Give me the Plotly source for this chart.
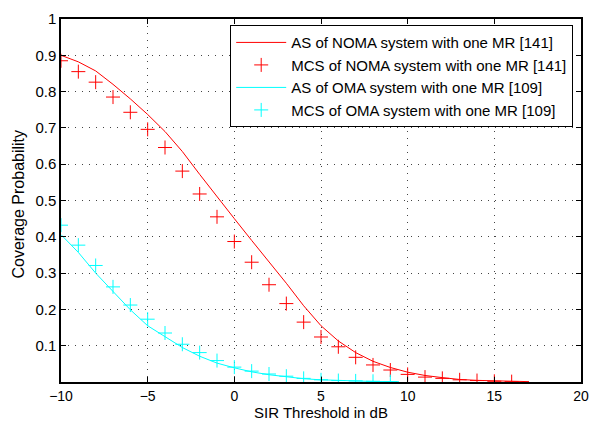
import plotly.graph_objects as go

# Analytical curves (AS)
x_as_noma = [-10, -9, -8, -7, -6, -5, -4, -3, -2, -1, 0, 1, 2, 3, 4, 5, 6, 7, 8, 9, 10, 11, 12, 13, 14, 15, 16, 17]
y_as_noma = [0.90, 0.882, 0.857, 0.82, 0.78, 0.737, 0.69, 0.635, 0.572, 0.51, 0.45, 0.39, 0.332, 0.272, 0.21, 0.155,
             0.113, 0.081, 0.057, 0.04, 0.027, 0.018, 0.012, 0.007, 0.0045, 0.0028, 0.0017, 0.001]

x_as_oma = [-10, -9, -8, -7, -6, -5, -4, -3, -2, -1, 0, 1, 2, 3, 4, 5, 6, 7, 8, 9, 9.5]
y_as_oma = [0.406, 0.357, 0.30, 0.248, 0.199, 0.155, 0.124, 0.095, 0.071, 0.052, 0.039, 0.028, 0.02, 0.014,
            0.009, 0.006, 0.004, 0.0025, 0.0015, 0.001, 0.0007]

# Monte Carlo simulation points (MCS)
x_mcs_noma = [-10, -9, -8, -7, -6, -5, -4, -3, -2, -1, 0, 1, 2, 3, 4, 5, 6, 7, 8, 9, 10, 11, 12, 13, 14, 15, 16]
y_mcs_noma = [0.885, 0.855, 0.826, 0.785, 0.743, 0.696, 0.646, 0.581, 0.518, 0.455, 0.387, 0.33, 0.268, 0.216,
              0.165, 0.124, 0.097, 0.068, 0.047, 0.033, 0.021, 0.0135, 0.01, 0.006, 0.004, 0.002, 0.001]

x_mcs_oma = [-10, -9, -8, -7, -6, -5, -4, -3, -2, -1, 0, 1, 2, 3, 4, 5, 6, 7, 8, 9]
y_mcs_oma = [0.432, 0.377, 0.321, 0.262, 0.212, 0.173, 0.135, 0.104, 0.081, 0.059, 0.041, 0.030, 0.022, 0.016,
             0.01, 0.006, 0.004, 0.003, 0.002, 0.001]

y_ticks = [0.1, 0.2, 0.3, 0.4, 0.5, 0.6, 0.7, 0.8, 0.9, 1]
y_ticktext = ["0.1", "0.2", "0.3", "0.4", "0.5", "0.6", "0.7", "0.8", "0.9", "1"]
x_ticks = [-10, -5, 0, 5, 10, 15, 20]

RED = "#ff0000"
CYAN = "#00ffff"
FONT = "Liberation Sans, Arial, Helvetica, sans-serif"

fig = go.Figure()
fig.add_trace(go.Scatter(x=x_as_noma, y=y_as_noma, mode="lines", line=dict(color=RED, width=1),
                         name="AS of NOMA system with one MR [141]"))
fig.add_trace(go.Scatter(x=x_mcs_noma, y=y_mcs_noma, mode="markers",
                         marker=dict(symbol="cross-thin", size=10, line=dict(color=RED, width=1)),
                         name="MCS of NOMA system with one MR [141]"))
fig.add_trace(go.Scatter(x=x_as_oma, y=y_as_oma, mode="lines", line=dict(color=CYAN, width=1),
                         name="AS of OMA system with one MR [109]"))
fig.add_trace(go.Scatter(x=x_mcs_oma, y=y_mcs_oma, mode="markers",
                         marker=dict(symbol="cross-thin", size=10, line=dict(color=CYAN, width=1)),
                         name="MCS of OMA system with one MR [109]"))

axis_common = dict(
    showline=True, linecolor="black", linewidth=1.5, mirror="ticks",
    ticks="inside", ticklen=5, tickcolor="black", tickwidth=1,
    showgrid=True, gridcolor="#444444", griddash="1px,6px", gridwidth=1,
    zeroline=False, tickfont=dict(family=FONT, size=15, color="black"),
)

fig.update_xaxes(range=[-10, 20], tickvals=x_ticks, ticklabelstandoff=0,
                 **{**axis_common, "tickfont": dict(family=FONT, size=14, color="black")})
fig.update_yaxes(range=[0, 1], tickvals=y_ticks, ticktext=y_ticktext, **axis_common)

fig.update_layout(
    width=599, height=422,
    margin=dict(l=61, r=10, t=16, b=40),
    paper_bgcolor="white", plot_bgcolor="white",
    font=dict(family=FONT, size=16, color="black"),
    showlegend=True,
    legend=dict(x=0.985, y=0.983, xanchor="right", yanchor="top",
                bgcolor="white", bordercolor="black", borderwidth=1,
                font=dict(family=FONT, size=15, color="black"),
                tracegroupgap=0, itemwidth=50),
    annotations=[
        dict(text="Coverage Probability", xref="paper", yref="paper", x=-0.082, y=0.49,
             xanchor="center", yanchor="middle", textangle=-90, showarrow=False,
             font=dict(family=FONT, size=16, color="black")),
        dict(text="SIR Threshold in dB", xref="paper", yref="paper", x=0.5, y=-0.109,
             xanchor="center", yanchor="bottom", showarrow=False, borderpad=0,
             font=dict(family=FONT, size=15, color="black")),
    ],
)

fig.write_html("out.html")
